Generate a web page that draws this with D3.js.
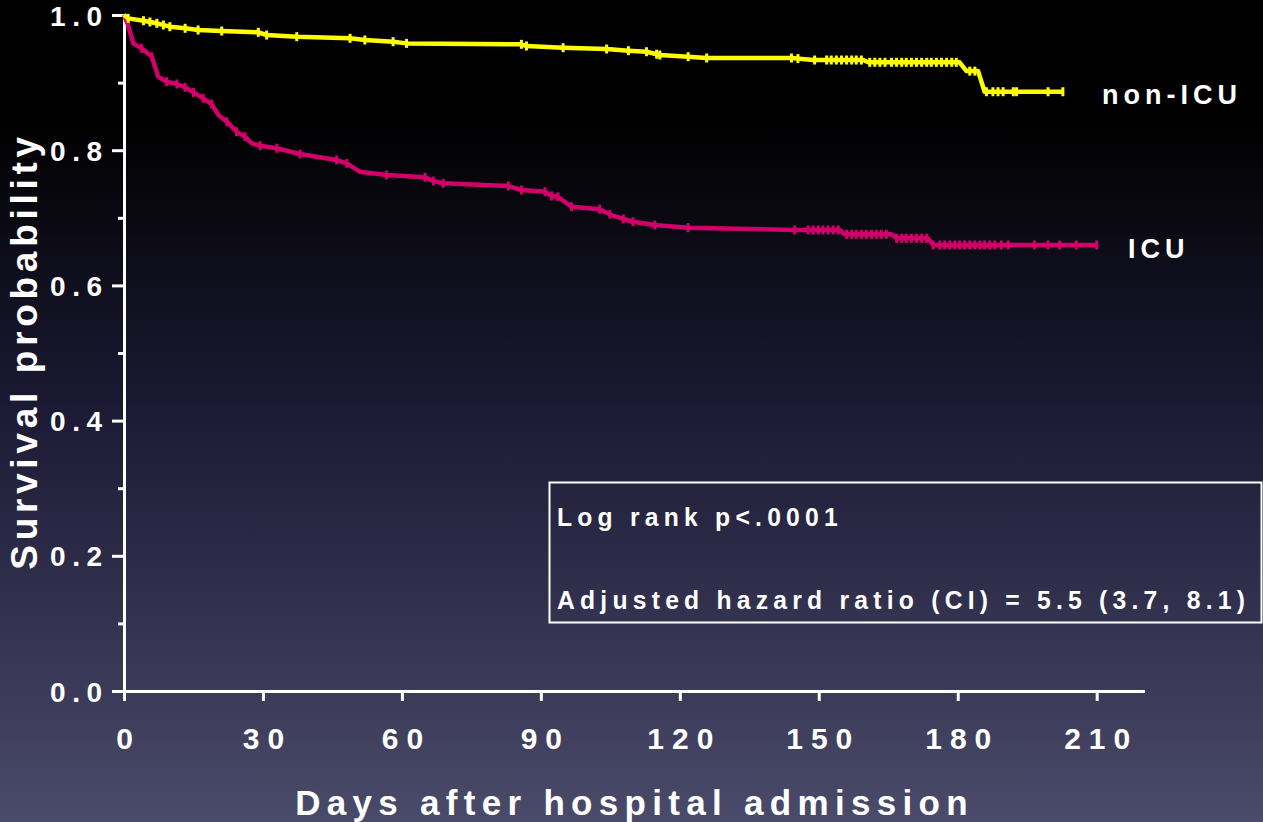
<!DOCTYPE html>
<html>
<head>
<meta charset="utf-8">
<script src="https://cdn.jsdelivr.net/npm/d3@7"></script>
<style>
  html, body { margin: 0; padding: 0; background: #000; }
  svg { display: block; }
  text { font-family: "Liberation Sans", Arial, sans-serif; font-weight: bold; fill: #fff; }
</style>
</head>
<body>
<svg id="chart" width="1263" height="822"></svg>
<script>
// Kaplan-Meier survival by admission type (days after hospital admission)
const nonIcuDays = [0, 0.9, 4.2, 7.1, 9.9, 13.2, 16.0, 21.1, 29.0, 30.8, 37.3, 48.8, 52.0, 58.1, 61.0,
  85.8, 86.9, 94.8, 104.2, 108.9, 112.8, 115.7, 121.8, 125.8, 144.1, 148.8, 159.6, 160.7,
  180.4, 181.9, 184.4, 185.8, 202.7];
const nonIcuSurv = [1.0, 0.995, 0.9916, 0.9877, 0.9827, 0.9803, 0.9778, 0.9763, 0.9744, 0.9704, 0.9679,
  0.9655, 0.963, 0.9605, 0.958, 0.9566, 0.9541, 0.9516, 0.9497, 0.9472, 0.9457, 0.9408, 0.9383,
  0.9364, 0.9364, 0.9334, 0.9334, 0.930, 0.930, 0.917, 0.917, 0.8865, 0.8865];
const nonIcuCensored = [0.9, 4.2, 5.6, 7.1, 8.5, 9.9, 13.2, 16.0, 21.1, 29.0, 30.8, 37.3, 48.8, 52.0,
  58.1, 61.0, 85.8, 86.9, 94.8, 104.2, 108.9, 112.8, 115.0, 115.7, 121.8, 125.8, 144.1, 145.5,
  149.1, 151.7, 152.7, 153.8, 154.9, 156.0, 157.1, 158.1, 159.2, 161.0, 162.1, 163.2, 164.3,
  165.7, 166.8, 167.9, 168.9, 170.0, 171.1, 172.2, 173.3, 174.3, 175.4, 176.5, 177.6, 178.7,
  179.7, 182.6, 183.7, 186.2, 187.6, 188.7, 189.8, 192.0, 192.7, 199.5, 202.7];

const icuDays = [0, 0.9, 2.0, 3.8, 6.0, 7.4, 9.2, 11.4, 13.2, 15.0, 17.1, 18.9, 20.4, 22.2, 24.3, 26.1,
  27.6, 29.4, 33.0, 38.0, 45.9, 48.1, 50.9, 56.7, 65.0, 66.8, 68.9, 83.0, 85.8, 90.9, 92.3, 93.7,
  96.6, 102.7, 104.9, 107.8, 109.9, 114.6, 121.8, 135.1, 144.8, 154.5, 155.6, 165.7, 166.8,
  173.6, 174.7, 210];
const icuSurv = [1.0, 0.985, 0.958, 0.9507, 0.9383, 0.9087, 0.9013, 0.8979, 0.893, 0.8856, 0.8768,
  0.8683, 0.852, 0.8422, 0.8274, 0.820, 0.810, 0.8067, 0.8028, 0.7944, 0.7855, 0.7806, 0.7682,
  0.7633, 0.7599, 0.7544, 0.751, 0.747, 0.7411, 0.7386, 0.7322, 0.7312, 0.7164, 0.7126, 0.7052,
  0.6982, 0.6942, 0.6893, 0.6854, 0.6834, 0.682, 0.682, 0.6756, 0.6756, 0.6697, 0.6697, 0.6598, 0.6598];
const icuCensored = [0.9, 3.8, 6.0, 9.2, 11.4, 13.2, 15.0, 17.1, 18.9, 22.2, 24.3, 26.1, 29.4, 33.0,
  38.0, 45.9, 48.1, 56.7, 65.0, 66.8, 68.9, 83.0, 85.8, 90.9, 92.3, 93.7, 96.6, 102.7, 104.9,
  107.8, 109.9, 114.6, 121.8, 144.8, 147.7, 148.8, 149.9, 150.9, 152.0, 153.1, 154.2, 156.0,
  157.1, 158.1, 159.2, 160.3, 161.4, 162.5, 163.5, 164.6, 166.8, 167.9, 168.9, 170.0, 171.1,
  172.2, 173.3, 174.7, 176.1, 177.2, 178.3, 179.4, 180.4, 181.5, 182.6, 183.7, 184.8, 185.8,
  186.9, 188.0, 189.4, 190.9, 196.6, 199.5, 202.0, 205.6, 210];

const xTickValues = [0, 30, 60, 90, 120, 150, 180, 210];
const yTickValues = [0, 0.2, 0.4, 0.6, 0.8, 1.0];
const yMinorTicks = [0.1, 0.3, 0.5, 0.7, 0.9];
const seriesNames = ["non-ICU", "ICU"];
const statLines = ["Log rank p<.0001", "Adjusted hazard ratio (CI) = 5.5 (3.7, 8.1)"];
const xTitle = "Days after hospital admission";
const yTitle = "Survival probability";

const svg = d3.select("#chart");
const W = 1263, H = 822;

// background gradient
const defs = svg.append("defs");
const grad = defs.append("linearGradient").attr("id", "bg")
  .attr("x1", 0).attr("y1", 0).attr("x2", 0).attr("y2", 1);
grad.append("stop").attr("offset", "0%").attr("stop-color", "#000000");
grad.append("stop").attr("offset", "14%").attr("stop-color", "#000000");
grad.append("stop").attr("offset", "50%").attr("stop-color", "#1c1a34");
grad.append("stop").attr("offset", "100%").attr("stop-color", "#4a4a6a");
svg.append("rect").attr("width", W).attr("height", H).attr("fill", "url(#bg)");

const x = d3.scaleLinear().domain([0, 220]).range([124, 1143]);
const y = d3.scaleLinear().domain([0, 1]).range([691, 15]);

// axes
const axisColor = "#ffffff";
const xAxis = svg.append("g").attr("transform", `translate(0,${y(0)})`)
  .call(d3.axisBottom(x).tickValues(xTickValues).tickSize(10).tickSizeOuter(0).tickFormat(d3.format("d")));
const yAxis = svg.append("g").attr("transform", `translate(${x(0)},0)`)
  .call(d3.axisLeft(y).tickValues(yTickValues).tickSize(12).tickSizeOuter(0).tickFormat(d3.format(".1f")));
svg.append("g").attr("transform", `translate(${x(0)},0)`)
  .call(d3.axisLeft(y).tickValues(yMinorTicks).tickSize(6).tickSizeOuter(0).tickFormat(""))
  .call(g => g.select(".domain").remove());

svg.selectAll(".domain, .tick line").attr("stroke", axisColor).attr("stroke-width", 3);
svg.selectAll(".domain").attr("stroke-linecap", "square");

const xLs = 8, yLs = 6.5;
xAxis.selectAll(".tick text")
  .attr("fill", "#fff").attr("font-size", 30).attr("font-family", null)
  .style("letter-spacing", xLs + "px")
  .attr("dx", xLs / 2).attr("y", 28).attr("dy", "1em");
yAxis.selectAll(".tick text")
  .attr("fill", "#fff").attr("font-size", 28).attr("font-family", null)
  .style("letter-spacing", yLs + "px")
  .attr("x", -22 + yLs).attr("dy", "0.36em");

// curves
const line = d3.line().x(d => x(d[0])).y(d => y(d[1]));
function interp(days, surv, t) {
  for (let i = 1; i < days.length; i++) {
    if (t <= days[i]) {
      const f = (t - days[i - 1]) / (days[i] - days[i - 1] || 1);
      return surv[i - 1] + f * (surv[i] - surv[i - 1]);
    }
  }
  return surv[surv.length - 1];
}
const series = [
  { days: icuDays, surv: icuSurv, cens: icuCensored, color: "#d1006a" },
  { days: nonIcuDays, surv: nonIcuSurv, cens: nonIcuCensored, color: "#ffff00" }
];
series.forEach(s => {
  const pts = s.days.map((d, i) => [d, s.surv[i]]);
  svg.append("path").datum(pts).attr("d", line)
    .attr("fill", "none").attr("stroke", s.color).attr("stroke-width", 4.5)
    .attr("stroke-linejoin", "round");
  svg.append("g").selectAll("line").data(s.cens).join("line")
    .attr("x1", d => x(d)).attr("x2", d => x(d))
    .attr("y1", d => y(interp(s.days, s.surv, d)) - 4.5)
    .attr("y2", d => y(interp(s.days, s.surv, d)) + 4.5)
    .attr("stroke", s.color).attr("stroke-width", 3);
});

// series labels
const lblLs = 5;
svg.append("text").attr("x", 1102).attr("y", 104).attr("font-size", 27)
  .style("letter-spacing", lblLs + "px").text(seriesNames[0]);
svg.append("text").attr("x", 1128).attr("y", 258).attr("font-size", 27)
  .style("letter-spacing", lblLs + "px").text(seriesNames[1]);

// statistics box
svg.append("rect").attr("x", 549.5).attr("y", 482.5).attr("width", 712).attr("height", 140)
  .attr("fill", "none").attr("stroke", "#fff").attr("stroke-width", 2);
[526, 609].forEach((by, i) => {
  svg.append("text").attr("transform", `translate(557,${by}) scale(0.95,1)`)
    .attr("font-size", 26).style("letter-spacing", "5.5px").text(statLines[i]);
});

// axis titles
svg.append("text").attr("x", (298 + 965) / 2 + 3).attr("y", 815).attr("font-size", 35)
  .attr("text-anchor", "middle").style("letter-spacing", "6.3px").text(xTitle);
svg.append("text").attr("transform", `translate(37,${(130 + 568) / 2 + 2}) rotate(-90)`)
  .attr("font-size", 37).attr("text-anchor", "middle").style("letter-spacing", "4.7px").text(yTitle);
</script>
</body>
</html>
